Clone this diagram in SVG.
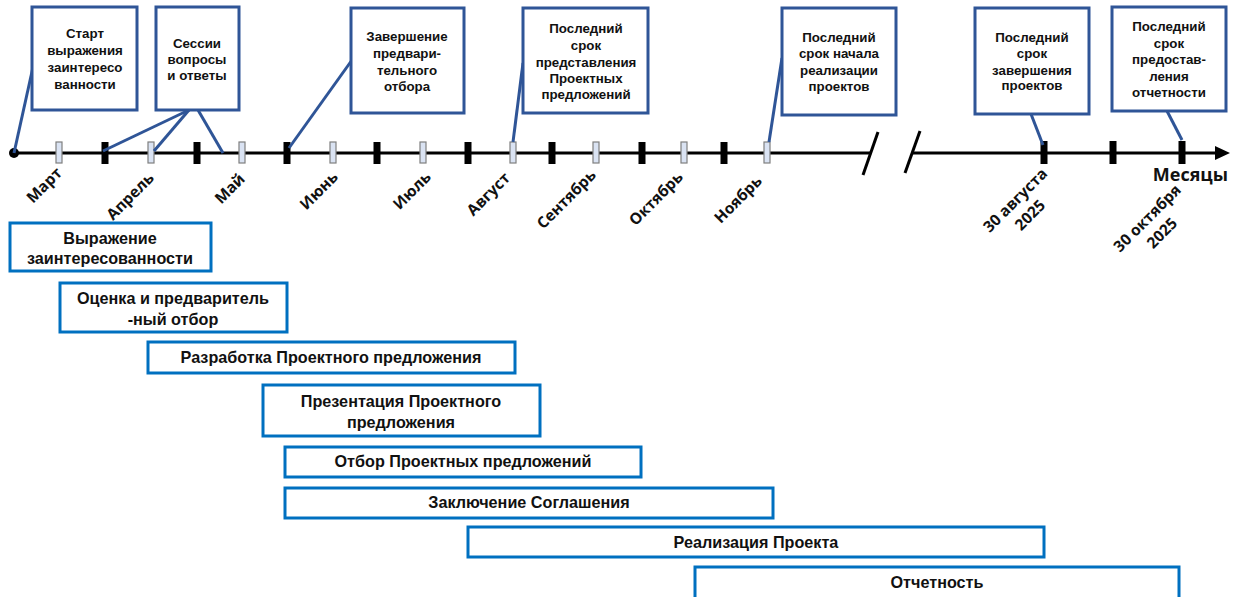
<svg xmlns="http://www.w3.org/2000/svg" width="1245" height="597" viewBox="0 0 1245 597">
<style>
.cb{fill:#fff;stroke:#2F5597;stroke-width:3}
.ld{stroke:#2F5597;stroke-width:3;fill:none}
.ct{font-family:"Liberation Sans",Arial,sans-serif;font-weight:bold;font-size:13.3px;fill:#111;text-anchor:middle}
.bar{fill:#fff;stroke:#0070C0;stroke-width:3}
.bt{font-family:"Liberation Sans",Arial,sans-serif;font-weight:bold;font-size:16.2px;fill:#111;text-anchor:middle}
.mt{font-family:"Open Sans","Noto Sans",sans-serif;font-weight:bold;font-size:15.5px;fill:#111;text-anchor:end}
.dt{font-family:"Open Sans","Noto Sans",sans-serif;font-weight:bold;font-size:15.5px;fill:#111;text-anchor:middle}
.lt{fill:#DAE3F3;stroke:#7F7F7F;stroke-width:1.2}
.bk{fill:#000}
</style>
<rect width="1245" height="597" fill="#fff"/>
<g id="axis">
<line x1="14" y1="153" x2="870" y2="153" stroke="#000" stroke-width="3"/>
<line x1="913" y1="153" x2="1218" y2="153" stroke="#000" stroke-width="3"/>
<polygon points="1230,153 1215,146 1215,160" fill="#000"/>
<circle cx="14" cy="153" r="5" fill="#000"/>
<line x1="878" y1="132" x2="863" y2="175" stroke="#000" stroke-width="3"/>
<line x1="920" y1="131" x2="905" y2="173" stroke="#000" stroke-width="3"/>
<rect class="lt" x="56" y="142" width="6" height="21"/>
<rect class="lt" x="148" y="142" width="6" height="21"/>
<rect class="lt" x="239" y="142" width="6" height="21"/>
<rect class="lt" x="330" y="142" width="6" height="21"/>
<rect class="lt" x="420" y="142" width="6" height="21"/>
<rect class="lt" x="510" y="142" width="6" height="21"/>
<rect class="lt" x="593" y="142" width="6" height="21"/>
<rect class="lt" x="681" y="142" width="6" height="21"/>
<rect class="lt" x="764" y="142" width="6" height="21"/>
<rect class="bk" x="101.5" y="142" width="7" height="22"/>
<rect class="bk" x="193.5" y="142" width="7" height="22"/>
<rect class="bk" x="283.5" y="142" width="7" height="22"/>
<rect class="bk" x="373.5" y="142" width="7" height="22"/>
<rect class="bk" x="464.5" y="142" width="7" height="22"/>
<rect class="bk" x="548.5" y="142" width="7" height="22"/>
<rect class="bk" x="638.5" y="142" width="7" height="22"/>
<rect class="bk" x="720.5" y="142" width="7" height="22"/>
<rect class="bk" x="1040.5" y="141" width="7" height="23"/>
<rect class="bk" x="1109.5" y="141" width="7" height="23"/>
<rect class="bk" x="1178.5" y="141" width="7" height="23"/>
<text x="1228" y="181" font-family="'Open Sans','Noto Sans',sans-serif" font-weight="bold" font-size="18" fill="#111" text-anchor="end">Месяцы</text>
<text class="mt" transform="translate(63,174) rotate(-45)">Март</text>
<text class="mt" transform="translate(155,179) rotate(-45)">Апрель</text>
<text class="mt" transform="translate(246,180) rotate(-45)">Май</text>
<text class="mt" transform="translate(339,178) rotate(-45)">Июнь</text>
<text class="mt" transform="translate(432,178) rotate(-45)">Июль</text>
<text class="mt" transform="translate(511,179) rotate(-45)">Август</text>
<text class="mt" transform="translate(597,176) rotate(-45)">Сентябрь</text>
<text class="mt" transform="translate(684,178) rotate(-45)">Октябрь</text>
<text class="mt" transform="translate(763,182) rotate(-45)">Ноябрь</text>
<g transform="translate(1019,204) rotate(-45)"><text class="dt" x="0" y="0">30 августа</text><text class="dt" x="0" y="21">2025</text></g>
<g transform="translate(1151,222) rotate(-45)"><text class="dt" x="0" y="0">30 октября</text><text class="dt" x="0" y="21">2025</text></g>
</g>
<g id="connectors">
<line class="ld" x1="35" y1="58" x2="14" y2="153"/>
<line class="ld" x1="189" y1="110" x2="103" y2="151"/>
<line class="ld" x1="189" y1="110" x2="154" y2="151"/>
<line class="ld" x1="198" y1="110" x2="223" y2="153"/>
<line class="ld" x1="352" y1="60" x2="289" y2="148"/>
<line class="ld" x1="523" y1="63" x2="513" y2="142"/>
<line class="ld" x1="782" y1="58" x2="769" y2="142"/>
<line class="ld" x1="1031" y1="114" x2="1043" y2="145"/>
<line class="ld" x1="1167" y1="111" x2="1182" y2="140"/>
</g>
<g id="c1"><rect class="cb" x="32" y="7" width="105" height="103"/>
<text class="ct" x="85" y="38">Старт</text><text class="ct" x="85" y="55">выражения</text><text class="ct" x="85" y="72">заинтересо</text><text class="ct" x="85" y="89">ванности</text></g>
<g id="c2"><rect class="cb" x="156" y="7" width="83" height="103"/>
<text class="ct" x="197" y="48">Сессии</text><text class="ct" x="197" y="64">вопросы</text><text class="ct" x="197" y="80">и ответы</text></g>
<g id="c3"><rect class="cb" x="351" y="8" width="113" height="105"/>
<text class="ct" x="407" y="41">Завершение</text><text class="ct" x="407" y="58">предвари-</text><text class="ct" x="407" y="75">тельного</text><text class="ct" x="407" y="91">отбора</text></g>
<g id="c4"><rect class="cb" x="523" y="8" width="125" height="105"/>
<text class="ct" x="586" y="33">Последний</text><text class="ct" x="586" y="50">срок</text><text class="ct" x="586" y="67">представления</text><text class="ct" x="586" y="83">Проектных</text><text class="ct" x="586" y="99">предложений</text></g>
<g id="c5"><rect class="cb" x="782" y="8" width="114" height="107"/>
<text class="ct" x="839" y="42">Последний</text><text class="ct" x="839" y="58">срок начала</text><text class="ct" x="839" y="75">реализации</text><text class="ct" x="839" y="91">проектов</text></g>
<g id="c6"><rect class="cb" x="975" y="8" width="114" height="106"/>
<text class="ct" x="1032" y="42">Последний</text><text class="ct" x="1032" y="58">срок</text><text class="ct" x="1032" y="75">завершения</text><text class="ct" x="1032" y="90">проектов</text></g>
<g id="c7"><rect class="cb" x="1112" y="7" width="114" height="104"/>
<text class="ct" x="1169" y="31">Последний</text><text class="ct" x="1169" y="48">срок</text><text class="ct" x="1169" y="64">предостав-</text><text class="ct" x="1169" y="81">ления</text><text class="ct" x="1169" y="97">отчетности</text></g>
<g id="b1"><rect class="bar" x="10" y="223" width="201" height="48"/>
<text class="bt" x="110" y="244">Выражение</text><text class="bt" x="110" y="264">заинтересованности</text></g>
<g id="b2"><rect class="bar" x="60" y="283" width="227" height="49"/>
<text class="bt" x="173" y="304">Оценка и предваритель</text><text class="bt" x="173" y="325">-ный отбор</text></g>
<g id="b3"><rect class="bar" x="148" y="342" width="367" height="31"/>
<text class="bt" x="331" y="363">Разработка Проектного предложения</text></g>
<g id="b4"><rect class="bar" x="263" y="385" width="277" height="51"/>
<text class="bt" x="401" y="407">Презентация Проектного</text><text class="bt" x="401" y="428">предложения</text></g>
<g id="b5"><rect class="bar" x="285" y="447" width="356" height="30"/>
<text class="bt" x="463" y="467">Отбор Проектных предложений</text></g>
<g id="b6"><rect class="bar" x="285" y="488" width="488" height="30"/>
<text class="bt" x="529" y="508">Заключение Соглашения</text></g>
<g id="b7"><rect class="bar" x="468" y="527" width="576" height="30"/>
<text class="bt" x="756" y="548">Реализация Проекта</text></g>
<g id="b8"><rect class="bar" x="695" y="567" width="484" height="32"/>
<text class="bt" x="937" y="588">Отчетность</text></g>
</svg>
